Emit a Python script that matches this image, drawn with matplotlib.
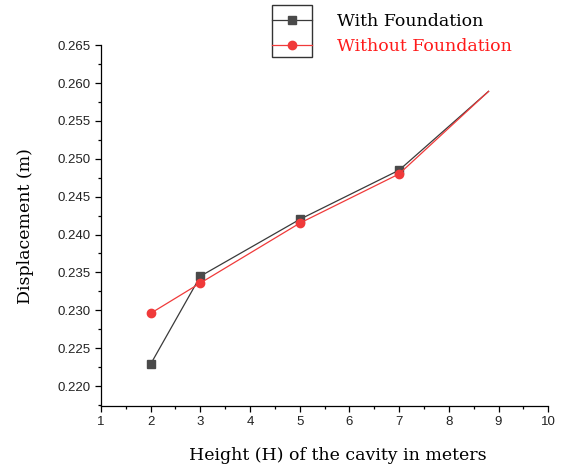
import matplotlib
matplotlib.use('Agg')
import matplotlib.pyplot as plt
from matplotlib.patches import Rectangle
from matplotlib.ticker import MultipleLocator

plt.rcParams['font.family'] = ['Liberation Sans', 'DejaVu Sans']

# data
height = [2, 3, 5, 7, 8.8]
disp_with = [0.2229, 0.2345, 0.2420, 0.2485, 0.2589]
disp_without = [0.2296, 0.2336, 0.2415, 0.2480, 0.2589]
labels = ['With Foundation', 'Without Foundation']

DARK = '#3a3a3a'
RED = '#f03a3a'

fig = plt.figure(figsize=(5.64, 4.70), dpi=100)
ax = fig.add_axes([0.179, 0.136, 0.793, 0.768])

l1, = ax.plot(height, disp_with, color=DARK, lw=0.9, marker='s', ms=6,
              mfc='#4a4a4a', mec='#4a4a4a', markevery=[0, 1, 2, 3])
l2, = ax.plot(height, disp_without, color=RED, lw=0.9, marker='o', ms=6,
              mfc=RED, mec=RED, markevery=[0, 1, 2, 3])

ax.set_xlim(1, 10)
ax.set_ylim(0.21736, 0.265)
ax.xaxis.set_major_locator(MultipleLocator(1))
ax.xaxis.set_minor_locator(MultipleLocator(0.5))
ax.yaxis.set_major_locator(MultipleLocator(0.005))
ax.yaxis.set_minor_locator(MultipleLocator(0.0025))
ax.yaxis.set_major_formatter(matplotlib.ticker.FormatStrFormatter('%.3f'))

for s in ['top', 'right']:
    ax.spines[s].set_visible(False)
for s in ['left', 'bottom']:
    ax.spines[s].set_linewidth(0.9)
ax.tick_params(which='major', direction='out', length=4, width=0.9,
               labelsize=9.5, colors='black', labelcolor='#222222')
ax.tick_params(which='minor', direction='out', length=2.5, width=0.9)

serif = ['DejaVu Serif']
ax.set_xlabel('Height (H) of the cavity in meters', family=serif,
              fontsize=12.5)
ax.set_ylabel('Displacement (m)', family=serif, fontsize=12.5, labelpad=17)
ax.xaxis.set_label_coords(0.53, -0.112)

leg = fig.legend([l1, l2], labels, loc='upper left',
                 bbox_to_anchor=(272 / 564, 1 - 13 / 470), frameon=False,
                 prop={'family': serif, 'size': 12.5},
                 handlelength=2.3, handletextpad=1.45, labelspacing=0.45,
                 borderpad=0, borderaxespad=0)
leg.get_texts()[0].set_color('black')
leg.get_texts()[1].set_color('#ff1a1a')

fig.add_artist(Rectangle((272 / 564, 1 - 57 / 470), 40 / 564, 52 / 470,
                         transform=fig.transFigure, fill=False,
                         edgecolor='#333333', lw=1.0))

fig.savefig('out.png', dpi=100, facecolor='white')
